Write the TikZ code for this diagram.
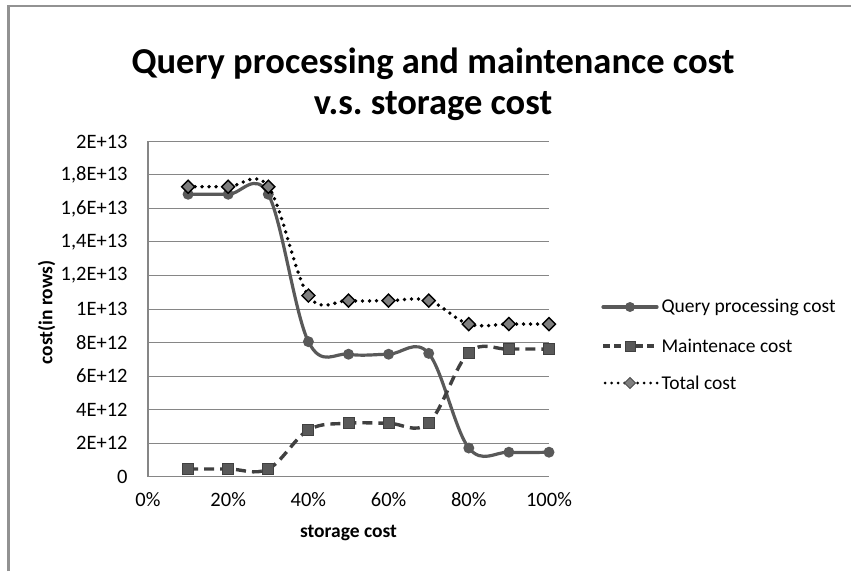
\documentclass[tikz,border=0pt]{standalone}
\usepackage{fontspec}
\setmainfont{Carlito}
\usetikzlibrary{positioning}
\definecolor{querygray}{RGB}{89,89,89}
\definecolor{maintgray}{RGB}{64,64,64}
\definecolor{gridgray}{RGB}{134,134,134}
\definecolor{totalfill}{RGB}{127,127,127}

\begin{document}
\begin{tikzpicture}[x=1pt, y=1pt,
    ticklbl/.style={font=\fontsize{20.5}{22}\selectfont},
    legendlbl/.style={font=\fontsize{19.5}{22}\selectfont},
    axislbl/.style={font=\bfseries\fontsize{19.5}{22}\selectfont},
    querylin/.style={querygray, line width=3.2pt, line cap=round},
    maintlin/.style={maintgray, line width=3.4pt, dash pattern=on 10pt off 6pt},
    totallin/.style={black, line width=3.8pt, line cap=round, dash pattern=on 0pt off 7pt}]
  \useasboundingbox (0,0) rectangle (851,571);
  %% frame
  \draw[gridgray!90, line width=2.2pt] (8.5,0) -- (8.5,565) -- (851,565);
  %% title
  \node[font=\bfseries\fontsize{36.5}{40}\selectfont, anchor=base] (title) at (433,497)
    {Query processing and maintenance cost};
  \node[font=\bfseries\fontsize{36.5}{40}\selectfont, anchor=base] (title2) at (433,456)
    {v.s.\ storage cost};
  \begin{scope}[shift={(148,94.5)}, x=4.01pt, y=16.75pt]
    %% axes and grid
    \foreach \y in {2,4,...,20}
      \draw[gridgray, line width=1pt] (0,\y) -- (100,\y);
    \draw[gridgray, line width=1.2pt] (0,20) -- (0,0) -- (100,0);
    \foreach \y/\l in {0/0, 2/2E+12, 4/4E+12, 6/6E+12, 8/8E+12, 10/1E+13,
                       12/{1,2E+13}, 14/{1,4E+13}, 16/{1,6E+13}, 18/{1,8E+13}, 20/2E+13}
      \node[ticklbl, anchor=east] (ytick\y) at (-4.2,\y) {\l};
    \foreach \x in {0,20,...,100}
      \node[ticklbl, anchor=north] (xtick\x) at (\x,-0.75) {\x\%};
    \node[axislbl, anchor=base] (xlabel) at (50,-3.65) {storage cost};
    \node[axislbl, rotate=90] (ylabel) at (-25.3,9.8) {cost(in rows)};
    %% query processing cost
    \draw[querylin] plot[smooth, tension=0.6] coordinates {(10,16.85) (20,16.85) (30,16.85)
      (40,8.05) (50,7.3) (60,7.3) (70,7.35) (80,1.7) (90,1.45) (100,1.45)};
    \foreach \p in {(10,16.85),(20,16.85),(30,16.85),(40,8.05),(50,7.3),
                    (60,7.3),(70,7.35),(80,1.7),(90,1.45),(100,1.45)}
      \fill[querygray] \p circle (5.5pt);
    %% maintenance cost
    \draw[maintlin] plot[smooth, tension=0.6] coordinates {(10,0.45) (20,0.45) (30,0.45)
      (40,2.78) (50,3.18) (60,3.18) (70,3.2) (80,7.4) (90,7.6) (100,7.6)};
    \foreach \p in {(10,0.45),(20,0.45),(30,0.45),(40,2.78),(50,3.18),
                    (60,3.18),(70,3.2),(80,7.4),(90,7.6),(100,7.6)}
      \filldraw[fill=querygray, draw=maintgray, line width=1pt]
        \p +(-5.5pt,-5.5pt) rectangle +(5.5pt,5.5pt);
    %% total cost
    \draw[totallin] plot[smooth, tension=0.6] coordinates {(10,17.3) (20,17.3) (30,17.3)
      (40,10.8) (50,10.5) (60,10.5) (70,10.5) (80,9.1) (90,9.1) (100,9.1)};
    \foreach \p in {(10,17.3),(20,17.3),(30,17.3),(40,10.8),(50,10.5),
                    (60,10.5),(70,10.5),(80,9.1),(90,9.1),(100,9.1)}
      \filldraw[fill=totalfill, draw=black, line width=1.4pt]
        \p +(0,6.5pt) -- +(6.5pt,0) -- +(0,-6.5pt) -- +(-6.5pt,0) -- cycle;
  \end{scope}
  %% legend
  \coordinate (qa) at (603,264);
  \coordinate (qb) at (657,264);
  \draw[querylin] (qa) -- (qb);
  \fill[querygray] (630,264) circle (5pt);
  \node[legendlbl, anchor=west] (qtxt) at (658,264) {Query processing cost};
  \coordinate (ma) at (603,225);
  \coordinate (mb) at (657,225);
  \draw[maintlin, dash pattern=on 7pt off 4pt] (ma) -- (mb);
  \filldraw[fill=querygray, draw=maintgray, line width=1pt] (630,225) +(-5pt,-5pt) rectangle +(5pt,5pt);
  \node[legendlbl, anchor=west] (mtxt) at (658,225) {Maintenace cost};
  \coordinate (ta) at (605,188);
  \coordinate (tb) at (657,188);
  \draw[totallin, line width=3pt, dash pattern=on 0pt off 6.5pt] (ta) -- (tb);
  \filldraw[fill=totalfill, draw=totalfill!60!black, line width=1pt] (630,188) +(0,5.5pt) -- +(5.5pt,0) -- +(0,-5.5pt) -- +(-5.5pt,0) -- cycle;
  \node[legendlbl, anchor=west] (ttxt) at (658,188) {Total cost};
\end{tikzpicture}
\end{document}
